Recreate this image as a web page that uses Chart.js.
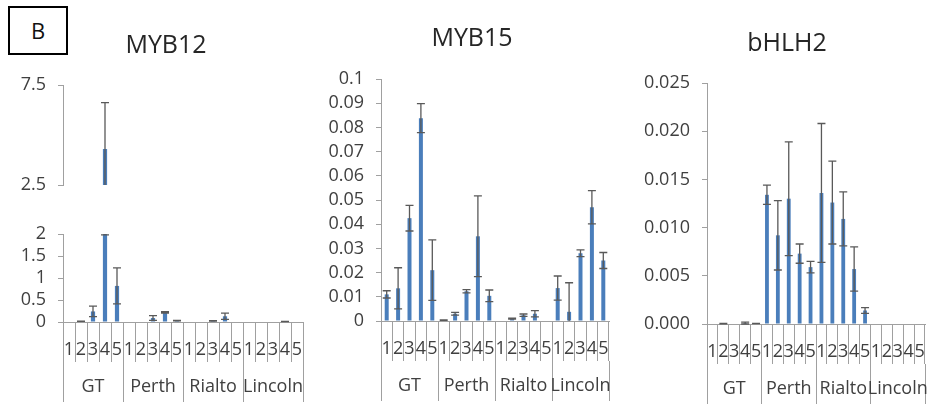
<!DOCTYPE html>
<html>
<head>
<meta charset="utf-8">
<script src="https://cdn.jsdelivr.net/npm/chart.js@4"></script>
<style>
  html, body { margin: 0; padding: 0; background: #fff; }
  body { width: 928px; height: 404px; position: relative; overflow: hidden; font-family: 'Open Sans', sans-serif; }
  .panel { position: absolute; top: 0; height: 404px; }
  .title { position: absolute; width: 200px; text-align: center; font-size: 25px; line-height: 30px; color: #262626; }
  #tag { position: absolute; left: 8px; top: 6px; width: 56px; height: 45px; border: 2px solid #000;
         font-size: 22px; line-height: 45px; text-align: center; color: #111; }
</style>
</head>
<body>
<div id="tag">B</div>
<div class="panel" style="left:0;width:320px"><canvas id="myb12"></canvas></div>
<div class="panel" style="left:320px;width:300px"><canvas id="myb15"></canvas></div>
<div class="panel" style="left:620px;width:308px"><canvas id="bhlh2"></canvas></div>
<div class="title" style="left:66px;top:28px">MYB12</div>
<div class="title" style="left:372px;top:21px">MYB15</div>
<div class="title" style="left:687px;top:26px">bHLH2</div>
<script>
// ===== categories =====
const stages = ['1', '2', '3', '4', '5'];
const cultivars = ['GT', 'Perth', 'Rialto', 'Lincoln'];
const stageLabels = cultivars.flatMap(() => stages);

// ===== MYB12 (broken axis 0-2 / 2.5-7.5) =====
const myb12 = [0, 0.015, 0.24, 4.3, 0.82,  0, 0, 0.09, 0.22, 0.03,  0, 0, 0.025, 0.13, 0,  0, 0, 0, 0.01, 0];
const myb12Err = [0, 0.003, 0.12, 2.32, 0.41,  0, 0, 0.055, 0.015, 0.005,  0, 0, 0.005, 0.07, 0,  0, 0, 0, 0.002, 0];
const myb12LowTicks = [0, 0.5, 1, 1.5, 2];
const myb12TopTicks = [2.5, 7.5];

// ===== MYB15 =====
const myb15 = [0.011, 0.0135, 0.0425, 0.0838, 0.021,  0.0004, 0.003, 0.0123, 0.035, 0.0104,
               0, 0.001, 0.0024, 0.003, 0,  0.0136, 0.0038, 0.028, 0.047, 0.025];
const myb15Err = [0.0015, 0.0085, 0.0053, 0.006, 0.0125,  0.0001, 0.0006, 0.0007, 0.0167, 0.0024,
                  0, 0.0002, 0.0005, 0.0013, 0,  0.005, 0.012, 0.0014, 0.0069, 0.0033];
const myb15Ticks = [0, 0.01, 0.02, 0.03, 0.04, 0.05, 0.06, 0.07, 0.08, 0.09, 0.1];

// ===== bHLH2 =====
const bhlh2 = [0, 0.00003, 0, 0.0001, 0.00005,  0.0134, 0.0092, 0.013, 0.0073, 0.0059,
               0.0136, 0.0126, 0.0109, 0.0057, 0.0014,  0, 0, 0, 0, 0];
const bhlh2Err = [0, 0.00002, 0, 0.0001, 0.00002,  0.001, 0.0036, 0.0059, 0.001, 0.0006,
                  0.0072, 0.0043, 0.0028, 0.0023, 0.0003,  0, 0, 0, 0, 0];
const bhlh2Ticks = [0, 0.005, 0.01, 0.015, 0.02, 0.025];

const BLUE = '#4a7ebb';
const AXIS = '#a0a0a0';
const TEXT = '#404040';

Chart.defaults.font.family = "'Open Sans', sans-serif";
Chart.defaults.font.size = 18;
Chart.defaults.color = TEXT;

// clip each dataset to its own y axis and draw the error bars on top
const errorBars = {
  id: 'errorBars',
  beforeDatasetDraw(chart, args) {
    const ys = chart.scales[args.meta.yAxisID];
    const a = chart.chartArea;
    chart.ctx.save();
    chart.ctx.beginPath();
    chart.ctx.rect(a.left, ys.top, a.right - a.left, ys.bottom - ys.top);
    chart.ctx.clip();
  },
  afterDatasetDraw(chart, args) {
    const ctx = chart.ctx;
    ctx.restore();
    const ds = chart.data.datasets[args.index];
    const ys = chart.scales[args.meta.yAxisID];
    if (!ds.errors) return;
    ctx.save();
    ctx.strokeStyle = '#595959';
    ctx.lineWidth = 1.3;
    args.meta.data.forEach((bar, i) => {
      const v = ds.data[i], e = ds.errors[i];
      if (v == null || !e) return;
      const hi = v + e, lo = v - e;
      const from = Math.max(lo, ys.min), to = Math.min(hi, ys.max);
      if (from > to) return;
      ctx.beginPath();
      ctx.moveTo(bar.x, ys.getPixelForValue(from));
      ctx.lineTo(bar.x, ys.getPixelForValue(to));
      [hi, lo].forEach(c => {
        if (c >= ys.min && c <= ys.max) {
          const y = ys.getPixelForValue(c);
          ctx.moveTo(bar.x - 4, y);
          ctx.lineTo(bar.x + 4, y);
        }
      });
      ctx.stroke();
    });
    ctx.restore();
  }
};

function yAxis(yW, ticks, extra, fmt) {
  return Object.assign({
    position: 'left',
    min: ticks[0],
    max: ticks[ticks.length - 1],
    grid: { drawOnChartArea: false, tickLength: 5, color: AXIS },
    border: { color: AXIS },
    ticks: { padding: 12, color: TEXT, autoSkip: false,
             callback: fmt || (v => String(Math.round(v * 1000) / 1000)) },
    afterBuildTicks(s) { s.ticks = ticks.map(v => ({ value: v })); },
    afterFit(s) { s.width = yW; }
  }, extra);
}

function bars(data, errors, yAxisID) {
  return {
    data, errors, yAxisID,
    backgroundColor: BLUE,
    barPercentage: 0.35,
    categoryPercentage: 1,
    grouped: false
  };
}

function makeChart(id, pad, datasets, yScales) {
  return new Chart(document.getElementById(id), {
    type: 'bar',
    data: { labels: stageLabels, datasets },
    options: {
      animation: false,
      responsive: true,
      maintainAspectRatio: false,
      layout: { padding: pad },
      plugins: {
        legend: { display: false },
        tooltip: { enabled: false }
      },
      scales: Object.assign({
        x: {
          weight: 0,
          offset: true,
          grid: { offset: true, drawOnChartArea: false, tickLength: 40, color: AXIS },
          border: { color: AXIS },
          ticks: { padding: -23, autoSkip: false, maxRotation: 0, minRotation: 0, color: TEXT },
          afterFit(s) { s.height = 40; }
        },
        x2: {
          type: 'category',
          labels: cultivars,
          position: 'bottom',
          weight: 1,
          offset: true,
          grid: { offset: true, drawOnChartArea: false, tickLength: 40, color: AXIS },
          border: { display: false },
          ticks: { padding: -26, autoSkip: false, maxRotation: 0, minRotation: 0, color: TEXT },
          afterFit(s) { s.height = 40; }
        }
      }, yScales)
    },
    plugins: [errorBars]
  });
}

// 1. MYB12 with broken value axis
makeChart('myb12', { left: 0, right: 17, top: 85, bottom: 2 },
  [bars(myb12, myb12Err, 'y'), bars(myb12.map(v => v > 2.5 ? v : null), myb12Err, 'yTop')],
  {
    y: yAxis(63, myb12LowTicks, { stack: 'm12', stackWeight: 88, weight: 1 }),
    yGap: { position: 'left', stack: 'm12', stackWeight: 49, weight: 2, min: 0, max: 1,
            grid: { display: false }, border: { display: false }, ticks: { display: false },
            afterFit(s) { s.width = 63; } },
    yTop: yAxis(63, myb12TopTicks, { stack: 'm12', stackWeight: 100, weight: 3 })
  });

// 2. MYB15
makeChart('myb15', { left: 0, right: 11, top: 79, bottom: 3 },
  [bars(myb15, myb15Err, 'y')],
  { y: yAxis(61, myb15Ticks, {}) });

// 3. bHLH2
makeChart('bhlh2', { left: 0, right: 3, top: 83, bottom: 0 },
  [bars(bhlh2, bhlh2Err, 'y')],
  { y: yAxis(87, bhlh2Ticks, {}, v => v.toFixed(3)) });
</script>
</body>
</html>
